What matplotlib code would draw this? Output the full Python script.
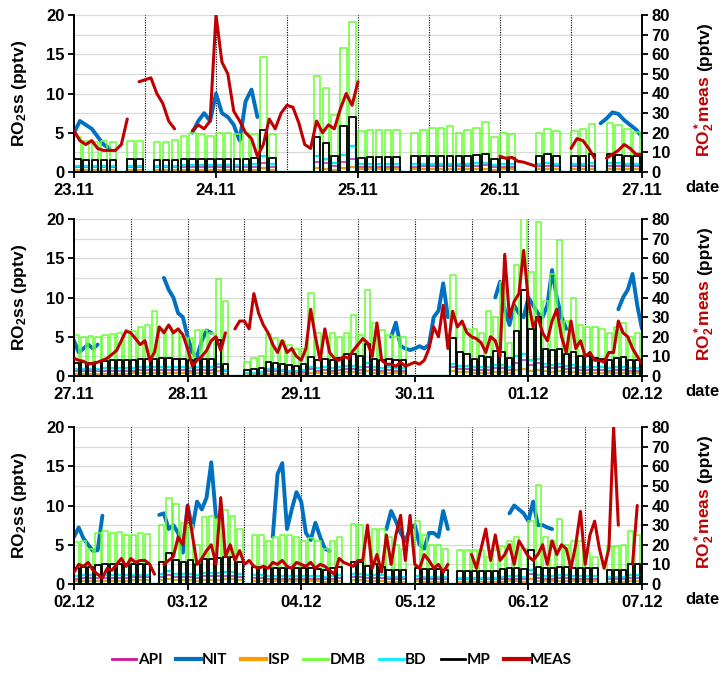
# pyright: reportUnknownMemberType=false
"""Modelled RO2ss vs measured RO2*, three stacked date panels (23.11 - 07.12)."""

import numpy as np
import matplotlib

matplotlib.use("Agg")
import matplotlib.pyplot as plt
from matplotlib.lines import Line2D

N = np.nan

DAYS = ["23.11", "24.11", "25.11", "26.11", "27.11", "28.11", "29.11", "30.11",
        "01.12", "02.12", "03.12", "04.12", "05.12", "06.12", "07.12"]
PANEL_DAYS = [(0, 4), (4, 9), (9, 14)]

# modelled RO2ss (pptv), one value per 1.5 h slot, 16 slots per day
DMB = [
    4.4, 3.9, 3.8, 3.9, 3.8, 0, 4.0, 4.0, 0, 3.8, 3.8, 4.1, 4.6, 5.0, 4.9, 4.6,
    5.0, 5.0, 4.8, 5.0, 4.8, 14.6, 4.9, 0, 0, 0, 0, 12.2, 10.7, 7.3, 15.8, 19.1,
    5.2, 5.3, 5.3, 5.4, 5.4, 0, 5.0, 5.3, 5.6, 5.6, 5.8, 5.0, 5.3, 5.6, 6.4, 4.5,
    5.0, 4.8, 0, 0, 5.0, 5.5, 5.2, 0, 5.2, 5.5, 6.1, 0, 6.3, 6.0, 5.5, 5.1,
    5.2, 5.0, 5.1, 5.0, 5.2, 5.3, 5.5, 5.5, 5.7, 6.2, 6.5, 8.3, 6.0, 6.2, 5.8, 5.0,
    4.8, 5.8, 5.8, 5.5, 12.3, 9.5, 0, 0, 1.8, 2.3, 2.6, 5.3, 4.8, 4.5, 4.0, 3.5,
    3.5, 10.6, 5.5, 5.0, 5.5, 5.0, 5.5, 7.8, 5.2, 10.9, 6.8, 5.8, 5.2, 5.0, 5.0, 0,
    0, 0, 0, 0, 0, 12.9, 6.5, 6.0, 6.0, 5.5, 8.3, 7.5, 12.0, 4.2, 14.2, 20.5,
    13.3, 19.6, 9.6, 13.0, 17.3, 7.0, 10.0, 6.5, 6.3, 6.3, 6.0, 5.5, 6.3, 6.8, 5.0, 5.5,
    5.3, 5.5, 4.5, 6.5, 6.7, 6.5, 6.6, 6.3, 6.3, 6.5, 6.4, 0, 7.5, 11.0, 10.2, 7.8,
    7.5, 5.0, 8.5, 8.6, 8.3, 9.4, 8.7, 7.0, 0, 6.2, 6.2, 5.5, 6.0, 6.3, 6.3, 6.0,
    5.5, 5.8, 5.5, 4.5, 5.5, 6.0, 0, 7.7, 7.5, 6.1, 7.0, 7.0, 6.0, 5.0, 4.5, 0,
    8.0, 6.3, 5.0, 5.0, 4.5, 0, 4.3, 4.3, 4.3, 4.3, 3.5, 4.3, 4.8, 5.5, 6.0, 4.5,
    8.0, 12.6, 6.0, 5.5, 8.3, 5.0, 5.5, 5.5, 4.0, 3.5, 0, 4.8, 4.8, 5.0, 6.8, 6.3,
]
MP = [
    1.6, 1.5, 1.5, 1.5, 1.5, 0, 1.6, 1.6, 0, 1.5, 1.5, 1.5, 1.7, 1.7, 1.7, 1.7,
    1.6, 1.6, 1.6, 1.7, 1.8, 5.4, 1.8, 0, 0, 0, 0, 4.5, 3.7, 2.0, 5.8, 7.0,
    1.8, 1.9, 1.9, 1.9, 1.9, 0, 2.0, 2.0, 2.0, 2.0, 2.0, 2.0, 2.1, 2.2, 2.3, 1.6,
    1.8, 1.8, 0, 0, 2.0, 2.3, 2.1, 0, 2.0, 2.1, 2.3, 0, 2.3, 2.2, 2.1, 2.0,
    1.7, 1.8, 1.7, 1.8, 1.9, 2.0, 2.0, 2.0, 2.1, 2.2, 2.2, 2.2, 2.3, 2.3, 2.2, 2.2,
    2.0, 2.2, 2.2, 2.2, 4.6, 1.5, 0, 0, 0.8, 0.9, 1.0, 1.8, 1.7, 1.5, 1.4, 1.3,
    1.5, 2.4, 2.0, 2.2, 2.0, 2.3, 2.8, 2.8, 2.5, 4.1, 2.2, 2.0, 2.2, 2.0, 2.0, 0,
    0, 0, 0, 0, 0, 4.8, 3.0, 2.8, 2.2, 2.5, 2.4, 3.2, 3.0, 2.3, 5.7, 11.0,
    6.0, 7.5, 3.5, 3.3, 3.5, 2.8, 3.0, 2.5, 2.5, 2.3, 2.2, 2.0, 2.3, 2.4, 2.0, 2.0,
    2.0, 2.2, 2.2, 2.4, 2.5, 2.5, 2.5, 2.5, 2.6, 2.6, 2.6, 0, 2.8, 4.0, 3.0, 2.8,
    3.0, 2.5, 3.2, 3.2, 3.3, 3.5, 3.4, 2.8, 0, 2.2, 2.2, 2.1, 2.0, 2.0, 2.0, 2.0,
    2.0, 2.0, 1.9, 1.8, 2.1, 2.2, 0, 2.8, 2.8, 2.3, 2.5, 2.2, 1.8, 1.8, 1.8, 0,
    2.0, 1.9, 1.9, 1.9, 1.8, 0, 1.6, 1.6, 1.6, 1.7, 1.6, 1.7, 1.9, 2.0, 2.0, 1.9,
    4.3, 2.2, 2.0, 2.0, 2.2, 2.2, 2.1, 2.0, 2.0, 2.0, 0, 1.8, 1.8, 1.8, 2.5, 2.5,
]
BD = [
    0.8, 0.8, 0.8, 0.8, 0.8, 0, 0.8, 0.8, 0, 0.8, 0.8, 0.8, 0.9, 0.9, 0.9, 0.9,
    0.9, 0.9, 0.9, 0.9, 1.0, 2.0, 1.0, 0, 0, 0, 0, 2.0, 1.7, 1.2, 2.2, 3.3,
    1.0, 1.0, 1.0, 1.0, 1.0, 0, 1.0, 1.0, 1.0, 1.0, 1.0, 1.0, 1.0, 1.1, 1.1, 0.9,
    1.0, 1.0, 0, 0, 1.0, 1.1, 1.0, 0, 1.0, 1.0, 1.1, 0, 1.1, 1.1, 1.0, 1.0,
    0.9, 0.9, 0.9, 0.9, 1.0, 1.0, 1.0, 1.0, 1.0, 1.1, 1.1, 1.1, 1.2, 1.2, 1.1, 1.1,
    1.0, 1.1, 1.1, 1.1, 1.5, 0.8, 0, 0, 0.4, 0.4, 0.5, 0.9, 0.9, 0.8, 0.7, 0.7,
    0.8, 1.2, 1.0, 1.1, 1.0, 1.1, 1.3, 1.3, 1.2, 1.6, 1.1, 1.0, 1.1, 1.0, 1.0, 0,
    0, 0, 0, 0, 0, 1.5, 1.3, 1.3, 1.1, 1.2, 1.2, 1.4, 1.4, 1.2, 2.5, 2.8,
    2.0, 2.2, 1.5, 1.4, 1.5, 1.3, 1.4, 1.2, 1.2, 1.1, 1.1, 1.0, 1.1, 1.2, 1.0, 1.0,
    1.0, 1.1, 1.1, 1.1, 1.2, 1.2, 1.2, 1.2, 1.2, 1.2, 1.2, 0, 1.3, 1.6, 1.3, 1.3,
    1.3, 1.2, 1.4, 1.4, 1.4, 1.5, 1.5, 1.3, 0, 1.1, 1.1, 1.0, 1.0, 1.0, 1.0, 1.0,
    1.0, 1.0, 1.0, 0.9, 1.0, 1.1, 0, 1.3, 1.3, 1.1, 1.2, 1.1, 0.9, 0.9, 0.9, 0,
    1.0, 0.9, 0.9, 0.9, 0.9, 0, 0.8, 0.8, 0.8, 0.8, 0.8, 0.8, 0.9, 1.0, 1.0, 0.9,
    1.8, 1.1, 1.0, 1.0, 1.1, 1.1, 1.0, 1.0, 1.0, 1.0, 0, 0.9, 0.9, 0.9, 1.2, 1.2,
]
API = [
    0.6, 0.6, 0.6, 0.6, 0.6, 0, 0.6, 0.6, 0, 0.6, 0.6, 0.6, 0.7, 0.7, 0.7, 0.7,
    0.7, 0.7, 0.7, 0.7, 0.7, 1.2, 0.7, 0, 0, 0, 0, 1.3, 1.1, 0.8, 1.3, 1.6,
    0.7, 0.7, 0.7, 0.7, 0.7, 0, 0.7, 0.8, 0.8, 0.8, 0.8, 0.8, 0.8, 0.8, 0.9, 0.7,
    0.7, 0.7, 0, 0, 0.8, 0.8, 0.8, 0, 0.8, 0.8, 0.8, 0, 0.8, 0.8, 0.8, 0.8,
    0.6, 0.6, 0.6, 0.6, 0.7, 0.7, 0.7, 0.7, 0.7, 0.8, 0.8, 0.8, 0.8, 0.8, 0.8, 0.8,
    0.7, 0.8, 0.8, 0.8, 1.1, 0.6, 0, 0, 0.3, 0.3, 0.3, 0.6, 0.6, 0.6, 0.5, 0.5,
    0.5, 0.9, 0.7, 0.8, 0.7, 0.8, 0.9, 0.9, 0.8, 1.1, 0.8, 0.7, 0.8, 0.7, 0.7, 0,
    0, 0, 0, 0, 0, 1.1, 0.9, 0.9, 0.8, 0.8, 0.8, 1.0, 1.0, 0.8, 1.7, 2.0,
    1.4, 1.6, 1.1, 1.0, 1.1, 0.9, 1.0, 0.8, 0.8, 0.8, 0.8, 0.7, 0.8, 0.8, 0.7, 0.7,
    0.7, 0.8, 0.8, 0.8, 0.8, 0.8, 0.8, 0.8, 0.9, 0.9, 0.9, 0, 0.9, 1.1, 0.9, 0.9,
    0.9, 0.8, 1.0, 1.0, 1.0, 1.0, 1.0, 0.9, 0, 0.8, 0.8, 0.7, 0.7, 0.7, 0.7, 0.7,
    0.7, 0.7, 0.7, 0.6, 0.7, 0.8, 0, 0.9, 0.9, 0.8, 0.8, 0.8, 0.6, 0.6, 0.6, 0,
    0.7, 0.6, 0.6, 0.6, 0.6, 0, 0.6, 0.6, 0.6, 0.6, 0.6, 0.6, 0.6, 0.7, 0.7, 0.6,
    1.3, 0.8, 0.7, 0.7, 0.8, 0.8, 0.7, 0.7, 0.7, 0.7, 0, 0.6, 0.6, 0.6, 0.8, 0.8,
]
ISP = [
    0.3, 0.3, 0.3, 0.3, 0.3, 0, 0.3, 0.3, 0, 0.3, 0.3, 0.3, 0.3, 0.3, 0.3, 0.3,
    0.3, 0.3, 0.3, 0.3, 0.3, 0.5, 0.3, 0, 0, 0, 0, 0.5, 0.4, 0.3, 0.5, 0.6,
    0.4, 0.4, 0.4, 0.4, 0.4, 0, 0.4, 0.4, 0.4, 0.4, 0.4, 0.4, 0.4, 0.4, 0.4, 0.3,
    0.4, 0.4, 0, 0, 0.4, 0.4, 0.4, 0, 0.4, 0.4, 0.4, 0, 0.4, 0.4, 0.4, 0.4,
    0.3, 0.3, 0.3, 0.3, 0.3, 0.3, 0.3, 0.3, 0.4, 0.4, 0.4, 0.4, 0.4, 0.4, 0.4, 0.4,
    0.4, 0.4, 0.4, 0.4, 0.6, 0.3, 0, 0, 0.2, 0.2, 0.2, 0.3, 0.3, 0.3, 0.3, 0.3,
    0.3, 0.4, 0.4, 0.4, 0.4, 0.4, 0.5, 0.5, 0.4, 0.6, 0.4, 0.4, 0.4, 0.4, 0.4, 0,
    0, 0, 0, 0, 0, 0.6, 0.5, 0.5, 0.4, 0.4, 0.4, 0.5, 0.5, 0.4, 0.8, 0.9,
    0.7, 0.8, 0.6, 0.5, 0.6, 0.5, 0.5, 0.4, 0.4, 0.4, 0.4, 0.4, 0.4, 0.4, 0.4, 0.4,
    0.4, 0.4, 0.4, 0.4, 0.4, 0.4, 0.4, 0.4, 0.5, 0.5, 0.5, 0, 0.5, 0.6, 0.5, 0.5,
    0.5, 0.4, 0.5, 0.5, 0.5, 0.6, 0.6, 0.5, 0, 0.4, 0.4, 0.4, 0.4, 0.4, 0.4, 0.4,
    0.4, 0.4, 0.4, 0.3, 0.4, 0.4, 0, 0.5, 0.5, 0.4, 0.4, 0.4, 0.3, 0.3, 0.3, 0,
    0.4, 0.3, 0.3, 0.3, 0.3, 0, 0.3, 0.3, 0.3, 0.3, 0.3, 0.3, 0.3, 0.4, 0.4, 0.3,
    0.7, 0.4, 0.4, 0.4, 0.4, 0.4, 0.4, 0.4, 0.4, 0.4, 0, 0.3, 0.3, 0.3, 0.4, 0.4,
]

# NIT (pptv, left axis), hourly from 23.11 00:00
NIT = (
    [5.0, 6.5, 6.0, 5.5, 4.5, 3.5, 3.0, N] + [N] * 12
    + [5.0, 6.5, 7.5, 6.5, 10.0, 7.5, 7.0, 6.0, 4.0, 9.0, 10.5, 7.0] + [N] * 57
    + [6.2, 6.8, 7.6, 7.4, 6.6, 6.0, 5.4]
    # 27.11 - 01.12
    + [4.5, 3.0, 3.5, 4.0, 3.5, 4.0] + [N] * 13
    + [12.5, 11.0, 10.0, 8.0, 7.5, 5.0, 3.0, 2.5, 4.5, 5.8, 5.5] + [N] * 37
    + [5.0, 6.8, 3.8, 3.5, 3.3, 3.5, 3.8, 3.5, 4.0, 7.5, 8.3, 11.8, 7.5] + [N] * 9
    + [10.0, 12.0, 8.5, 6.5, 9.0, 8.0, 7.5, 10.0, 9.0, 8.0, 7.5, 9.0, 13.5, 10.0, 7.5, 6.0]
    + [N] * 10 + [8.5, 10.0, 11.0, 13.0, 9.0]
    # 02.12 - 06.12
    + [6.0, 7.2, 5.8, 5.0, 4.2, 4.3, 8.7] + [N] * 11
    + [8.8, 9.0, 7.0, 7.5, 6.5, 4.0, 10.0, 7.0, 10.5, 9.5, 11.0, 15.5, 8.5] + [N] * 11
    + [6.0, 14.0, 15.4, 7.0, 9.5, 11.7, 10.5, 6.5, 5.6, 7.8, 6.0, 4.5, 4.2] + [N] * 11
    + [7.0, 9.3, 8.0, 6.5, 5.5, 7.0, 7.5, 5.0, 4.5, 6.5, 6.5, 6.0, 9.3, 7.0] + [N] * 12
    + [9.0, 10.0, 9.5, 9.0, 8.0, 10.5, 7.5, 7.5, 7.2, 7.0] + [N] * 18
)

# measured RO2* (pptv, right axis), hourly from 23.11 00:00
MEAS = (
    [21, 16, 14, 16, 12, 11, 11, 11, 14, 27, N, 46, 47, 48, 40, 35, 26, 22, N, N]
    + [21, 24, 22, 26, 80, 56, 50, 31, 26, 20, 17, 8, 14, 27, 22, 30, 34, 33, 25, 14,
       12, 26, 20, 24, 22, 32, 40, 34, 46] + [N] * 23
    + [8, 7, 7.5, 5.5, 5, 4, 3] + [N] * 5 + [12, 17, 16, 12, 7, N, 7, 9, 11, 14, 12, 9]
    # 27.11 - 01.12
    + [9, 8, 7.5, 6, 6.5, 7, 8, 9, 11, 13, 18]
    + [23, 22, 19, 16, 18, 8, 12, 25, 22, 26, 22, 24, 21, 14, 5, 8, 10, 13, 18, 20, 13, 22, N]
    + [24, 28, 28, 24, 42, 32, 26, 22, 16, 12, 18, 12, 14, 10, 8, 14, 34, 20, 8, 24,
       12, 9, 8, 10, 9, 13, 16]
    + [19, 17, 10, 27, 8, 6, 6, 5, 7, 5, 6, 7, 6, 8, 14, 25, 20, 36, 14, 33,
       25, 28, 22, 20, 19, 17, 12, 20, 18, 10, 62, 30, 38, 42, 64, 38, 25, 30, 22, 18,
       28, 34, 20, 12, 28, 14, 18, 10, 12, 8, 8, 7, 12, 12, 28, 22, 20, 14, 10]
    # 02.12 - 06.12
    + [6, 10, 9, 11, 7, 5, 3, 8, 7, 10, 13, 9, 13, 11, 12, 12, 10, 5, N]
    + [10, 12, 14, 24, 20, 40, 25, 10, 13, 17, 20, 10, 44, 14, 20, 12, 17, 10, 12, 9,
       8, 9, 8, 11, 10, 12, 9, 8, 11, 10, 9, 11, 8, 10, 9, 7, 5]
    + [13, 11, 10, 9, 12, 12, 30, 8, 15, 6, 25, 10, 25, 35, 12, 35, 10, 8, 15, 12,
       8, 10, 6, 10] + [N] * 4
    + [15, 8, 18, 28, 12, 25, 12, 15, 20, 10, 22, 18, 14, 12, 15, 20, 10, 22, 15, 20,
       18, 8, 20, 37, 10, 25, 32, 18, 8, 18, 80, 30, N, N, 10, 40]
)

SLOT_H = 1.5
RED = "#c00000"
SERIES = [  # name, values, colour, width, hourly?
    ("API", API, "#d1129c", 1.1, False),
    ("NIT", NIT, "#0070c0", 2.8, True),
    ("ISP", ISP, "#ff9900", 1.6, False),
    ("DMB", DMB, "#66ff33", 1.1, False),
    ("BD", BD, "#00f0ff", 1.7, False),
    ("MP", MP, "#000000", 1.3, False),
]

assert len(NIT) == len(MEAS) == 336


def comb(vals, width=1.1):
    # each model slot drawn as a short pulse that drops back to zero
    xs, ys = [0.0], [0.0]
    for i, v in enumerate(vals):
        if v > 0:
            t = i * SLOT_H
            xs += [t, t, t + width, t + width]
            ys += [0.0, v, v, 0.0]
    xs.append(len(vals) * SLOT_H)
    ys.append(0.0)
    return xs, ys


plt.rcParams["font.family"] = ["Liberation Sans", "DejaVu Sans"]
plt.rcParams["font.weight"] = "bold"
plt.rcParams["mathtext.fontset"] = "custom"
plt.rcParams["mathtext.rm"] = "Liberation Sans:bold"
plt.rcParams["mathtext.it"] = "Liberation Sans:bold"
plt.rcParams["mathtext.bf"] = "Liberation Sans:bold"
plt.rcParams["mathtext.default"] = "rm"

W, H = 724, 677
FS = 12
fig = plt.figure(figsize=(W / 100, H / 100), dpi=100)
tops = [15, 219, 427]
hours = np.arange(len(MEAS))

for (d0, d1), top in zip(PANEL_DAYS, tops):
    ax = fig.add_axes([74 / W, 1 - (top + 157) / H, 568 / W, 157 / H])
    ax2 = ax.twinx()
    x0, x1 = d0 * 24, d1 * 24

    for h in range(x0 + 12, x1, 12):
        ax.axvline(h, color="k", ls=(0, (1, 1.2)), lw=0.8, zorder=0.8)

    for name, vals, col, lw, hourly in SERIES:
        if hourly:
            ax.plot(hours, vals, color=col, lw=lw, solid_capstyle="round", zorder=2)
        else:
            xs, ys = comb(vals)
            ax.plot(xs, ys, color=col, lw=lw, zorder=2)
    ax2.plot(hours, MEAS, color=RED, lw=2.2, solid_capstyle="round")

    ax.set_xlim(x0, x1)
    ax.set_ylim(0, 20)
    ax2.set_ylim(0, 80)
    ax.set_yticks([0, 5, 10, 15, 20])
    ax.set_yticks(np.arange(0, 20.1, 2.5), minor=True)
    ax.grid(axis="y", which="both", color="#d9d9d9", lw=0.9)
    ax.set_axisbelow(True)
    ax2.set_yticks(range(0, 81, 10))
    ax.set_xticks([d * 24 for d in range(d0, d1 + 1)])
    ax.set_xticklabels(DAYS[d0:d1 + 1])
    ax.tick_params(axis="y", which="minor", length=0)
    ax.tick_params(axis="y", which="major", direction="out", length=4, width=1.3,
                   labelsize=FS, pad=3)
    ax.tick_params(axis="x", which="major", direction="out", length=4, width=1.3,
                   labelsize=FS, pad=4)
    ax2.tick_params(direction="out", length=4, width=1.3, labelsize=FS, pad=3)

    for s in ("top", "right"):
        ax.spines[s].set_visible(False)
    for s in ("top", "left", "bottom"):
        ax2.spines[s].set_visible(False)
    for s in ("left", "bottom"):
        ax.spines[s].set_linewidth(1.4)
    ax2.spines["right"].set_linewidth(1.4)

    yc = 1 - (top + 78) / H
    fig.text(20 / W, yc, "RO$_2$ss (pptv)", rotation=90, ha="center", va="center", fontsize=12.5)
    fig.text(702 / W, 1 - (top + 172) / H, "date", ha="center", va="center", fontsize=FS)

renderer = fig.canvas.get_renderer()
for top in tops:
    t1 = fig.text(705 / W, 1 - (top + 142) / H, "RO$_2^*$meas", color=RED, rotation=90,
                  ha="center", va="bottom", fontsize=12.5)
    bb = t1.get_window_extent(renderer)
    fig.text(705 / W, bb.y1 / H + 4 / H, "(pptv)", rotation=90,
             ha="center", va="bottom", fontsize=12.5)

handles = [Line2D([], [], color=c, lw=(3 if n in ("NIT", "ISP") else 2)) for n, _, c, _, _ in SERIES]
handles.append(Line2D([], [], color=RED, lw=3))
labels = [s[0] for s in SERIES] + ["MEAS"]
fig.legend(handles, labels, loc="center", bbox_to_anchor=(342 / W, 1 - 660 / H), ncol=7,
           frameon=False, handlelength=1.6, handletextpad=0.1, columnspacing=0.9,
           prop={"family": "Lato", "size": 11})

fig.savefig("out.png", dpi=100)
